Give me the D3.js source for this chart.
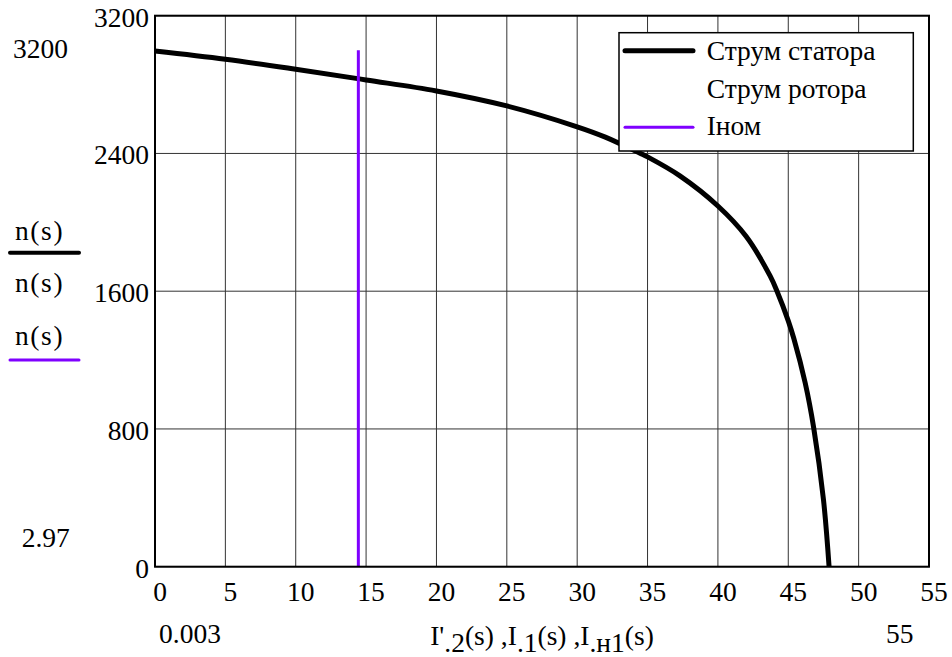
<!DOCTYPE html>
<html>
<head>
    <meta charset="utf-8">
    <title>n(s) vs I(s)</title>
    <script src="https://d3js.org/d3.v7.min.js"></script>
    <style>
        body { margin: 0; background: #fff; }
        svg text { font-family: "Liberation Serif", "DejaVu Serif", serif; font-size: 27.5px; fill: #000; }
    </style>
</head>
<body>
    <svg width="952" height="657"></svg>
    <script>
        // stator current curve (A) vs speed (rpm)
        var statorCurrent = [0, 5, 10, 15, 20, 25, 30, 32, 34.5, 35, 37.3, 40, 42, 43.7, 44.2, 45, 45.4, 46.2, 46.8, 47.5, 47.9];
        var statorSpeed = [2995, 2947, 2889, 2827, 2763, 2676, 2555, 2495, 2400, 2380, 2270, 2095, 1919, 1690, 1600, 1428, 1324, 1068, 810, 390, 0];
        // nominal current marker
        var nomCurrent = [14.45, 14.45];
        var nomSpeed = [0, 3000];

        var xTicks = [0, 5, 10, 15, 20, 25, 30, 35, 40, 45, 50, 55];
        var yTicks = [0, 800, 1600, 2400, 3200];
        var legendLabels = ["Струм статора", "Струм ротора", "Іном"];
        var purple = "#7f00ff";

        var svg = d3.select("svg");
        var x = d3.scaleLinear().domain([0, 55]).range([155, 929]);
        var y = d3.scaleLinear().domain([0, 3200]).range([566.7, 15.7]);

        // grid
        svg.append("g").selectAll("line").data(xTicks).enter().append("line")
            .attr("x1", function(d) { return x(d); }).attr("x2", function(d) { return x(d); })
            .attr("y1", y(0)).attr("y2", y(3200))
            .attr("stroke", "#333").attr("stroke-width", 1);
        svg.append("g").selectAll("line").data(yTicks).enter().append("line")
            .attr("x1", x(0)).attr("x2", x(55))
            .attr("y1", function(d) { return y(d); }).attr("y2", function(d) { return y(d); })
            .attr("stroke", "#333").attr("stroke-width", 1);

        // tick labels
        svg.append("g").selectAll("text").data(yTicks).enter().append("text")
            .attr("x", 149).attr("y", function(d) { return y(d) + 11; })
            .attr("text-anchor", "end").text(function(d) { return d; });
        svg.append("g").selectAll("text").data(xTicks).enter().append("text")
            .attr("x", function(d) { return x(d) + 5; }).attr("y", 601)
            .attr("text-anchor", "middle").text(function(d) { return d; });

        // curves
        var pts = statorCurrent.map(function(c, i) { return [c, statorSpeed[i]]; });
        var line = d3.line().x(function(d) { return x(d[0]); }).y(function(d) { return y(d[1]); })
            .curve(d3.curveCatmullRom.alpha(0.5));
        svg.append("path").datum(pts).attr("d", line)
            .attr("fill", "none").attr("stroke", "#000").attr("stroke-width", 5);

        svg.append("line")
            .attr("x1", x(nomCurrent[0])).attr("x2", x(nomCurrent[1]))
            .attr("y1", y(nomSpeed[0])).attr("y2", y(nomSpeed[1]))
            .attr("stroke", purple).attr("stroke-width", 3);

        // frame
        svg.append("rect").attr("x", x(0)).attr("y", y(3200))
            .attr("width", x(55) - x(0)).attr("height", y(0) - y(3200))
            .attr("fill", "none").attr("stroke", "#000").attr("stroke-width", 2);

        // legend
        var lg = svg.append("g");
        lg.append("rect").attr("x", 619).attr("y", 32.7).attr("width", 294.3).attr("height", 118.3)
            .attr("fill", "#fff").attr("stroke", "#000").attr("stroke-width", 1.5);
        lg.append("line").attr("x1", 625).attr("x2", 693).attr("y1", 50.7).attr("y2", 50.7)
            .attr("stroke", "#000").attr("stroke-width", 5).attr("stroke-linecap", "round");
        lg.append("line").attr("x1", 625).attr("x2", 693).attr("y1", 127.3).attr("y2", 127.3)
            .attr("stroke", purple).attr("stroke-width", 3).attr("stroke-linecap", "round");
        lg.selectAll("text").data(legendLabels).enter().append("text")
            .attr("x", 706.7).attr("y", function(d, i) { return 60 + i * 37.5; })
            .text(function(d) { return d; });

        // left-side labels (Mathcad style)
        svg.append("text").attr("x", 13).attr("y", 58).text("3200");
        svg.append("text").attr("x", 15).attr("y", 240).attr("letter-spacing", 1.6).text("n(s)");
        svg.append("line").attr("x1", 10).attr("x2", 79).attr("y1", 252.7).attr("y2", 252.7)
            .attr("stroke", "#000").attr("stroke-width", 4).attr("stroke-linecap", "round");
        svg.append("text").attr("x", 15).attr("y", 291.7).attr("letter-spacing", 1.6).text("n(s)");
        svg.append("text").attr("x", 15).attr("y", 345).attr("letter-spacing", 1.6).text("n(s)");
        svg.append("line").attr("x1", 10).attr("x2", 79).attr("y1", 360).attr("y2", 360)
            .attr("stroke", purple).attr("stroke-width", 3).attr("stroke-linecap", "round");
        svg.append("text").attr("x", 21.7).attr("y", 546.7).text("2.97");

        // bottom labels
        svg.append("text").attr("x", 159).attr("y", 643).text("0.003");
        svg.append("text").attr("x", 886).attr("y", 643).text("55");

        var title = svg.append("text").attr("x", 542).attr("y", 645).attr("text-anchor", "middle");
        var parts = [["I'", 0], [".2", 7], ["(s) ,I", -7], [".1", 7], ["(s) ,I", -7], [".н1", 7], ["(s)", -7]];
        parts.forEach(function(p) {
            title.append("tspan").attr("dy", p[1]).text(p[0]);
        });
    </script>
</body>
</html>
